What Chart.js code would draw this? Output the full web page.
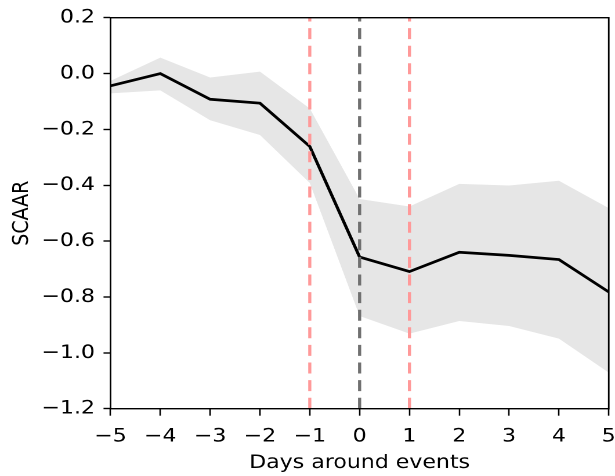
<!DOCTYPE html>
<html><head><meta charset="utf-8">
<script src="https://cdn.jsdelivr.net/npm/chart.js@4.4.1/dist/chart.umd.min.js"></script>
<style>
html,body{margin:0;padding:0;background:#fff;overflow:hidden}
#wrap{width:530px;height:476px;transform:scaleX(1.1604);transform-origin:0 0}
</style>
</head><body><div id="wrap"><canvas id="c"></canvas></div>
<script>
const days = [-5, -4, -3, -2, -1, 0, 1, 2, 3, 4, 5];
const scaar = [-0.044, 0.0, -0.092, -0.106, -0.261, -0.657, -0.709, -0.640, -0.651, -0.666, -0.782];
const upperBand = [-0.026, 0.057, -0.014, 0.007, -0.125, -0.449, -0.476, -0.395, -0.401, -0.384, -0.482];
const lowerBand = [-0.071, -0.060, -0.167, -0.220, -0.392, -0.868, -0.931, -0.886, -0.904, -0.949, -1.071];
const redLines = [-1, 1];
const grayLines = [0];
const xTicks = [-5, -4, -3, -2, -1, 0, 1, 2, 3, 4, 5];
const yTicks = [0.2, 0.0, -0.2, -0.4, -0.6, -0.8, -1.0, -1.2];
const xLabel = 'Days around events';
const yLabel = 'SCAAR';

const yMin = -1.2, yMax = 0.2, xMin = -5, xMax = 5;
const minus = '\u2212';
const fmtY = v => (v < -1e-9 ? minus : '') + Math.abs(v).toFixed(1);
const fmtX = v => (v < 0 ? minus : '') + Math.abs(v);

Chart.defaults.font.family = 'DejaVu Sans';
Chart.defaults.font.size = 19;
Chart.defaults.color = '#000';

const vline = (x, color) => ({
  data: [{x: x, y: yMin}, {x: x, y: yMax}],
  borderColor: color, borderWidth: 2.7, borderDash: [11, 6.6],
  pointRadius: 0, fill: false, order: 0, borderCapStyle: 'butt'
});

const boxPlugin = {
  id: 'box',
  afterDraw(chart) {
    const {ctx, chartArea: a} = chart;
    ctx.save();
    ctx.strokeStyle = '#000';
    ctx.lineWidth = 1.4;
    ctx.strokeRect(a.left, a.top, a.right - a.left, a.bottom - a.top);
    ctx.restore();
  }
};

new Chart(document.getElementById('c'), {
  type: 'line',
  data: {
    datasets: [
      { data: days.map((d, i) => ({x: d, y: upperBand[i]})), borderWidth: 0, borderColor: 'rgba(0,0,0,0)',
        backgroundColor: 'rgb(230,230,230)', fill: '+1', pointRadius: 0, order: 2 },
      { data: days.map((d, i) => ({x: d, y: lowerBand[i]})), borderWidth: 0, borderColor: 'rgba(0,0,0,0)',
        fill: false, pointRadius: 0, order: 2 },
      { data: days.map((d, i) => ({x: d, y: scaar[i]})), borderColor: '#000', borderWidth: 2.7,
        pointRadius: 0, fill: false, order: 1, tension: 0 },
      ...redLines.map(x => vline(x, '#ff9999')),
      ...grayLines.map(x => vline(x, '#707070'))
    ]
  },
  options: {
    responsive: true, maintainAspectRatio: false, animation: false, devicePixelRatio: 2,
    layout: { padding: { left: 0, right: 5.4, top: 17.7, bottom: 0 } },
    plugins: { legend: { display: false }, tooltip: { enabled: false } },
    scales: {
      x: {
        type: 'linear', min: xMin, max: xMax,
        afterBuildTicks: s => { s.ticks = xTicks.map(v => ({value: v})); },
        afterFit: s => { s.height = 67.3; s.paddingLeft = 0; s.paddingRight = 0; },
        ticks: { callback: v => fmtX(v), padding: 9.5, maxRotation: 0, autoSkip: false, color: '#000' },
        grid: { drawOnChartArea: false, drawTicks: true, tickLength: 7, tickColor: '#000', tickWidth: 1.3 },
        border: { display: false },
        title: { display: true, text: xLabel, color: '#000', padding: { top: 0, bottom: 1.4 }, font: { size: 19 } }
      },
      y: {
        type: 'linear', min: yMin, max: yMax,
        afterBuildTicks: s => { s.ticks = yTicks.map(v => ({value: v})); },
        afterFit: s => { s.width = 95.2; s.paddingTop = 0; s.paddingBottom = 0; },
        ticks: { callback: v => fmtY(v), padding: 7.3, autoSkip: false, color: '#000' },
        grid: { drawOnChartArea: false, drawTicks: true, tickLength: 6, tickColor: '#000', tickWidth: 1.4 },
        border: { display: false },
        title: { display: true, text: yLabel, color: '#000', padding: { top: 7.8, bottom: 0 }, font: { size: 19 } }
      }
    }
  },
  plugins: [boxPlugin]
});
</script>
</body></html>
